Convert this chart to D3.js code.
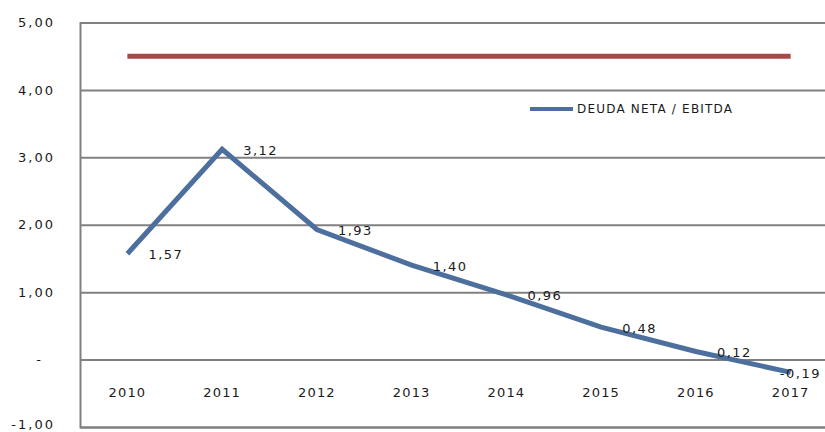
<!DOCTYPE html>
<html>
<head>
<meta charset="utf-8">
<script src="https://cdn.jsdelivr.net/npm/d3@7"></script>
<style>
  html, body { margin: 0; padding: 0; background: #fff; }
  svg { display: block; }
  text { font-family: "DejaVu Sans", Verdana, sans-serif; fill: #1a1a1a; }
</style>
</head>
<body>
<script>
// Net debt / EBITDA ratio by year, with the covenant ceiling
const years = ["2010", "2011", "2012", "2013", "2014", "2015", "2016", "2017"];
const deudaNetaEbitda = [1.57, 3.12, 1.93, 1.40, 0.96, 0.48, 0.12, -0.19];
const limite = [4.5, 4.5, 4.5, 4.5, 4.5, 4.5, 4.5, 4.5];
const yTicks = [-1, 0, 1, 2, 3, 4, 5];
const seriesName = "DEUDA NETA / EBITDA";

const W = 825, H = 432;
const plot = { left: 80, top: 22.5, right: 838, bottom: 427 };

const svg = d3.select("body").append("svg")
  .attr("width", W).attr("height", H);

const x = d3.scaleBand().domain(years).range([plot.left, plot.right]);
const cx = d => x(d) + x.bandwidth() / 2;
const y = d3.scaleLinear().domain([-1, 5]).range([plot.bottom, plot.top]);

// accounting-style numbers: comma decimals, plain hyphen, dash for zero
const fmt = v => v === 0 ? "-" :
  d3.format(".2f")(v).replace("\u2212", "-").replace(".", ",");

// horizontal gridlines + value axis labels
const yAxis = d3.axisLeft(y).tickValues(yTicks)
  .tickSize(-(plot.right - plot.left)).tickFormat(fmt).tickPadding(25);
const gy = svg.append("g").attr("transform", `translate(${plot.left},0)`).call(yAxis);
gy.select(".domain").attr("stroke", "#808080").attr("stroke-width", 2);
gy.selectAll(".tick line").attr("stroke", "#808080").attr("stroke-width", 2);
gy.selectAll(".tick text")
  .attr("font-size", 13).attr("letter-spacing", "2px")
  .attr("font-family", "DejaVu Sans, sans-serif")
  .attr("fill", "#1a1a1a")
  .attr("dx", d => d === 0 ? -12 : 0)
  .attr("y", d => d === -1 ? -3 : 0);

// category labels just below the zero line
const gx = svg.append("g")
  .attr("transform", `translate(0,${y(0) + 33})`)
  .call(d3.axisBottom(x).tickSize(0).tickPadding(0));
gx.select(".domain").remove();
gx.selectAll(".tick text")
  .attr("font-size", 13).attr("letter-spacing", "1.2px")
  .attr("font-family", "DejaVu Sans, sans-serif")
  .attr("fill", "#1a1a1a")
  .attr("dy", "0.35em").attr("y", 0);

// covenant ceiling
const line = d3.line().x((d, i) => cx(years[i])).y(d => y(d));
svg.append("path").datum(limite)
  .attr("d", line).attr("fill", "none")
  .attr("stroke", "#a9484b").attr("stroke-width", 5);

// ratio series
svg.append("path").datum(deudaNetaEbitda)
  .attr("d", line).attr("fill", "none")
  .attr("stroke", "#4d6f9e").attr("stroke-width", 5)
  .attr("stroke-linejoin", "miter");

// value labels, to the right of each point, kept inside the frame
const labels = svg.append("g").selectAll("text")
  .data(deudaNetaEbitda).join("text")
  .attr("font-size", 13).attr("letter-spacing", "1.5px")
  .attr("y", d => y(d) + 1)
  .attr("dy", "0.35em")
  .text(d => fmt(d));
labels.each(function (d, i) {
  const w = this.getComputedTextLength() + 6;
  const px = cx(years[i]) + 21;
  d3.select(this).attr("x", Math.min(px, W - w + 2));
});

// legend
const lg = svg.append("g").attr("transform", "translate(530,109)");
lg.append("line").attr("x1", 0).attr("x2", 43).attr("y1", 0).attr("y2", 0)
  .attr("stroke", "#4d6f9e").attr("stroke-width", 4);
lg.append("text").attr("x", 47).attr("dy", "0.35em")
  .attr("font-size", 12).attr("letter-spacing", "1.2px")
  .text(seriesName);
</script>
</body>
</html>
